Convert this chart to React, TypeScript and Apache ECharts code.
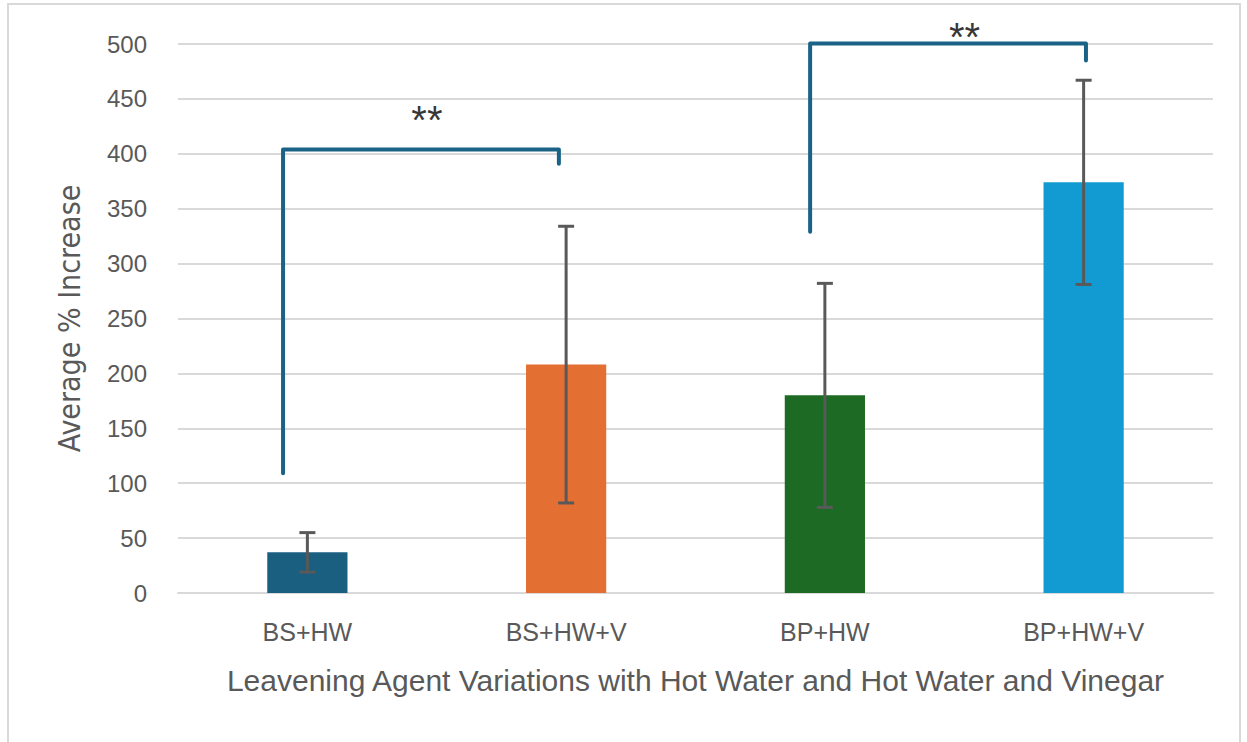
import React, { useEffect, useRef } from "react";
import * as echarts from "echarts";

const categories = ["BS+HW", "BS+HW+V", "BP+HW", "BP+HW+V"];
const means = [37, 208, 180, 374];
const errors = [18, 126, 102, 93];
const barColors = ["#1a5e80", "#e46f32", "#1c6a23", "#129bd2"];
const yTicks = { min: 0, max: 500, interval: 50 };
// significance brackets on a hidden value x-axis spanning 0..4 (category i centered at i+0.5)
const bracket1 = [[0.406, 109], [0.406, 404], [1.472, 404], [1.472, 391]];
const bracket2 = [[2.443, 329], [2.443, 500.5], [3.509, 500.5], [3.509, 485]];
const starLabels = [
  { pos: [0.962, 431], text: "**" },
  { pos: [3.04, 506], text: "**" },
];

const FONT = "'Liberation Sans', Arial, sans-serif";

export default function App() {
  const ref = useRef<HTMLDivElement>(null);
  useEffect(() => {
    if (!ref.current) return;
    const chart = echarts.init(ref.current, undefined, { renderer: "svg" });
    chart.setOption({
      animation: false,
      backgroundColor: "#ffffff",
      grid: { left: 178, right: 34, top: 44, bottom: 149 },
      graphic: [
        {
          type: "rect",
          shape: { x: 8, y: 4, width: 1232, height: 760 },
          style: { fill: "none", stroke: "#d9d9d9", lineWidth: 2 },
          silent: true,
        },
      ],
      xAxis: [
        {
          type: "category",
          data: categories,
          axisTick: { show: false },
          axisLine: { lineStyle: { color: "#d9d9d9", width: 2 } },
          axisLabel: { color: "#595959", fontSize: 25, fontFamily: FONT, margin: 26 },
          name: "Leavening Agent Variations with Hot Water and Hot Water and Vinegar",
          nameLocation: "middle",
          nameGap: 72,
          nameTextStyle: { color: "#595959", fontSize: 30, fontFamily: FONT },
        },
        { type: "value", min: 0, max: 4, show: false },
      ],
      yAxis: {
        type: "value",
        min: yTicks.min,
        max: yTicks.max,
        interval: yTicks.interval,
        axisLine: { show: false },
        axisTick: { show: false },
        splitLine: { lineStyle: { color: "#d9d9d9", width: 2 } },
        axisLabel: { color: "#595959", fontSize: 24, fontFamily: FONT, margin: 31 },
        name: "Average % Increase",
        nameLocation: "middle",
        nameGap: 94,
        nameTextStyle: {
          color: "#595959",
          fontSize: 30,
          fontFamily: "'Liberation Sans Narrow', 'DejaVu Sans Condensed', Arial, sans-serif",
        },
      },
      series: [
        {
          type: "bar",
          xAxisIndex: 0,
          barWidth: "31%",
          data: means.map((v, i) => ({ value: v, itemStyle: { color: barColors[i] } })),
        },
        {
          type: "custom",
          xAxisIndex: 0,
          data: means.map((m, i) => [i, m - errors[i], m + errors[i]]),
          renderItem: (params: any, api: any) => {
            const x = api.value(0);
            const lo = api.coord([x, api.value(1)]);
            const hi = api.coord([x, api.value(2)]);
            const cap = 8;
            const style = { stroke: "#595959", lineWidth: 3 };
            return {
              type: "group",
              children: [
                { type: "line", shape: { x1: lo[0], y1: lo[1], x2: hi[0], y2: hi[1] }, style },
                { type: "line", shape: { x1: lo[0] - cap, y1: lo[1], x2: lo[0] + cap, y2: lo[1] }, style },
                { type: "line", shape: { x1: hi[0] - cap, y1: hi[1], x2: hi[0] + cap, y2: hi[1] }, style },
              ],
            };
          },
          z: 5,
        },
        ...[bracket1, bracket2].map((b) => ({
          type: "line",
          xAxisIndex: 1,
          data: b,
          symbol: "none",
          clip: false,
          lineStyle: { color: "#1b6386", width: 4, join: "round", cap: "round" },
          z: 6,
        })),
        {
          type: "scatter",
          xAxisIndex: 1,
          clip: false,
          symbolSize: 0,
          data: starLabels.map((s) => ({ value: s.pos, name: s.text })),
          label: {
            show: true,
            position: "inside",
            formatter: (p: any) => p.name,
            color: "#000000",
            fontSize: 40,
            fontFamily: FONT,
          },
          z: 7,
        },
      ],
    });
    return () => chart.dispose();
  }, []);
  return (
    <div
      ref={ref}
      style={{ position: "fixed", left: 0, top: 0, width: 1247, height: 742, background: "#fff" }}
    />
  );
}
